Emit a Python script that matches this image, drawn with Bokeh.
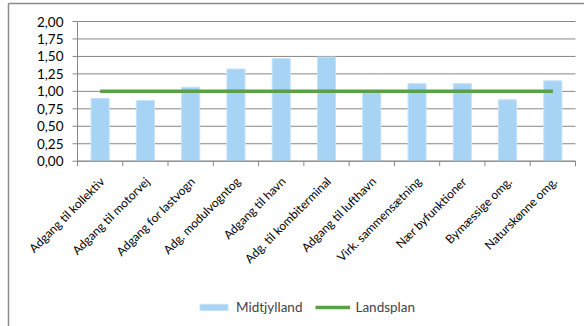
from math import pi

from bokeh.core.properties import value
from bokeh.embed import file_html
from bokeh.models import Legend, LegendItem, Range1d
from bokeh.plotting import figure
from bokeh.resources import INLINE

# Indeks for lokaliseringsfaktorer: Midtjylland mod landsplan (=1,00)
categories = [
    "Adgang til kollektiv",
    "Adgang til motorvej",
    "Adgang for lastvogn",
    "Adg. modulvogntog",
    "Adgang til havn",
    "Adg. til kombiterminal",
    "Adgang til lufthavn",
    "Virk. sammensætning",
    "Nær byfunktioner",
    "Bymæssige omg.",
    "Naturskønne omg.",
]
midtjylland = [0.90, 0.87, 1.06, 1.32, 1.47, 1.49, 0.99, 1.11, 1.11, 0.88, 1.15]
landsplan = [1.00] * len(categories)

y_ticks = [0.0, 0.25, 0.5, 0.75, 1.0, 1.25, 1.5, 1.75, 2.0]
y_tick_labels = ["0,00", "0,25", "0,50", "0,75", "1,00", "1,25", "1,50", "1,75", "2,00"]

FONT = value("Lato")
GRID = "#878787"

W, H = 584, 326
# pixel box of the plot area inside the canvas
AREA_L, AREA_R, AREA_T, AREA_B = 77, 575, 21, 160.7
# top-left corner of the chart border
BORDER_L, BORDER_T = 8, 3

n = len(categories)
centers = [i + 0.5 for i in range(n)]
boundaries = list(range(n + 1))
y_min, y_max = y_ticks[0], y_ticks[-1]

# the frame covers the whole canvas; ranges are chosen so that the
# category span and the 0..2 value span land on the plot area box
ppx = (AREA_R - AREA_L) / n
ppy = (AREA_B - AREA_T) / (y_max - y_min)
x0, x1 = -AREA_L / ppx, n + (W - AREA_R) / ppx
y0, y1 = y_min - (H - AREA_B) / ppy, y_max + AREA_T / ppy

p = figure(
    width=W, height=H, x_range=Range1d(x0, x1), y_range=Range1d(y0, y1),
    x_axis_location=None, y_axis_location=None,
    output_backend="svg", toolbar_location=None,
    min_border=0, min_border_left=0, min_border_right=0,
    min_border_top=0, min_border_bottom=0,
    background_fill_color="white", border_fill_color="white",
)
p.outline_line_color = None
p.grid.visible = False

# chart border: only its left and top edges fall inside the canvas
bx, by = x0 + BORDER_L / ppx, y1 - BORDER_T / ppy
p.segment(x0=[bx, bx], y0=[by, by], x1=[x1 + 5, bx], y1=[by, y0 - 5],
          line_color="#8c8c8c", line_width=1.5)

# horizontal gridlines
p.segment(x0=0, x1=n, y0=y_ticks, y1=y_ticks, line_color=GRID, line_width=1)

bars = p.vbar(x=centers, top=midtjylland, bottom=0, width=0.4,
              fill_color="#a7d3f5", line_color="#c6e2f8", line_width=1)
line = p.line(x=centers, y=landsplan, line_color="#59a047", line_width=3.5)

# value axis: line, outward ticks, labels
p.segment(x0=0, x1=0, y0=y_min, y1=y_max, line_color=GRID, line_width=1)
p.ray(x=0, y=y_ticks, length=5, length_units="screen", angle=pi,
      line_color=GRID, line_width=1)
p.text(x=0, y=y_ticks, text=y_tick_labels, x_offset=-14,
       text_align="right", text_baseline="middle",
       text_font=FONT, text_font_size="13.5px", text_color="#000000")

# category axis: line, tick marks between categories, slanted labels
p.segment(x0=0, x1=n, y0=y_min, y1=y_min, line_color=GRID, line_width=1)
p.ray(x=boundaries, y=y_min, length=5, length_units="screen", angle=-pi / 2,
      line_color=GRID, line_width=1)
p.text(x=centers, y=y_min, text=categories, angle=pi / 4,
       x_offset=2, y_offset=18,
       text_align="right", text_baseline="middle",
       text_font=FONT, text_font_size="12px", text_color="#000000")

legend = Legend(
    items=[LegendItem(label="Midtjylland", renderers=[bars]),
           LegendItem(label="Landsplan", renderers=[line])],
    orientation="horizontal", location=(196, 11),
    glyph_width=35, glyph_height=8, label_height=8,
    label_standoff=5, spacing=13, padding=0, margin=0,
    border_line_color=None, background_fill_alpha=0,
    label_text_font="Lato", label_text_font_size="13.5px",
    label_text_baseline="alphabetic",
)
p.add_layout(legend, "center")

open("out.html", "w").write(file_html(p, INLINE))
